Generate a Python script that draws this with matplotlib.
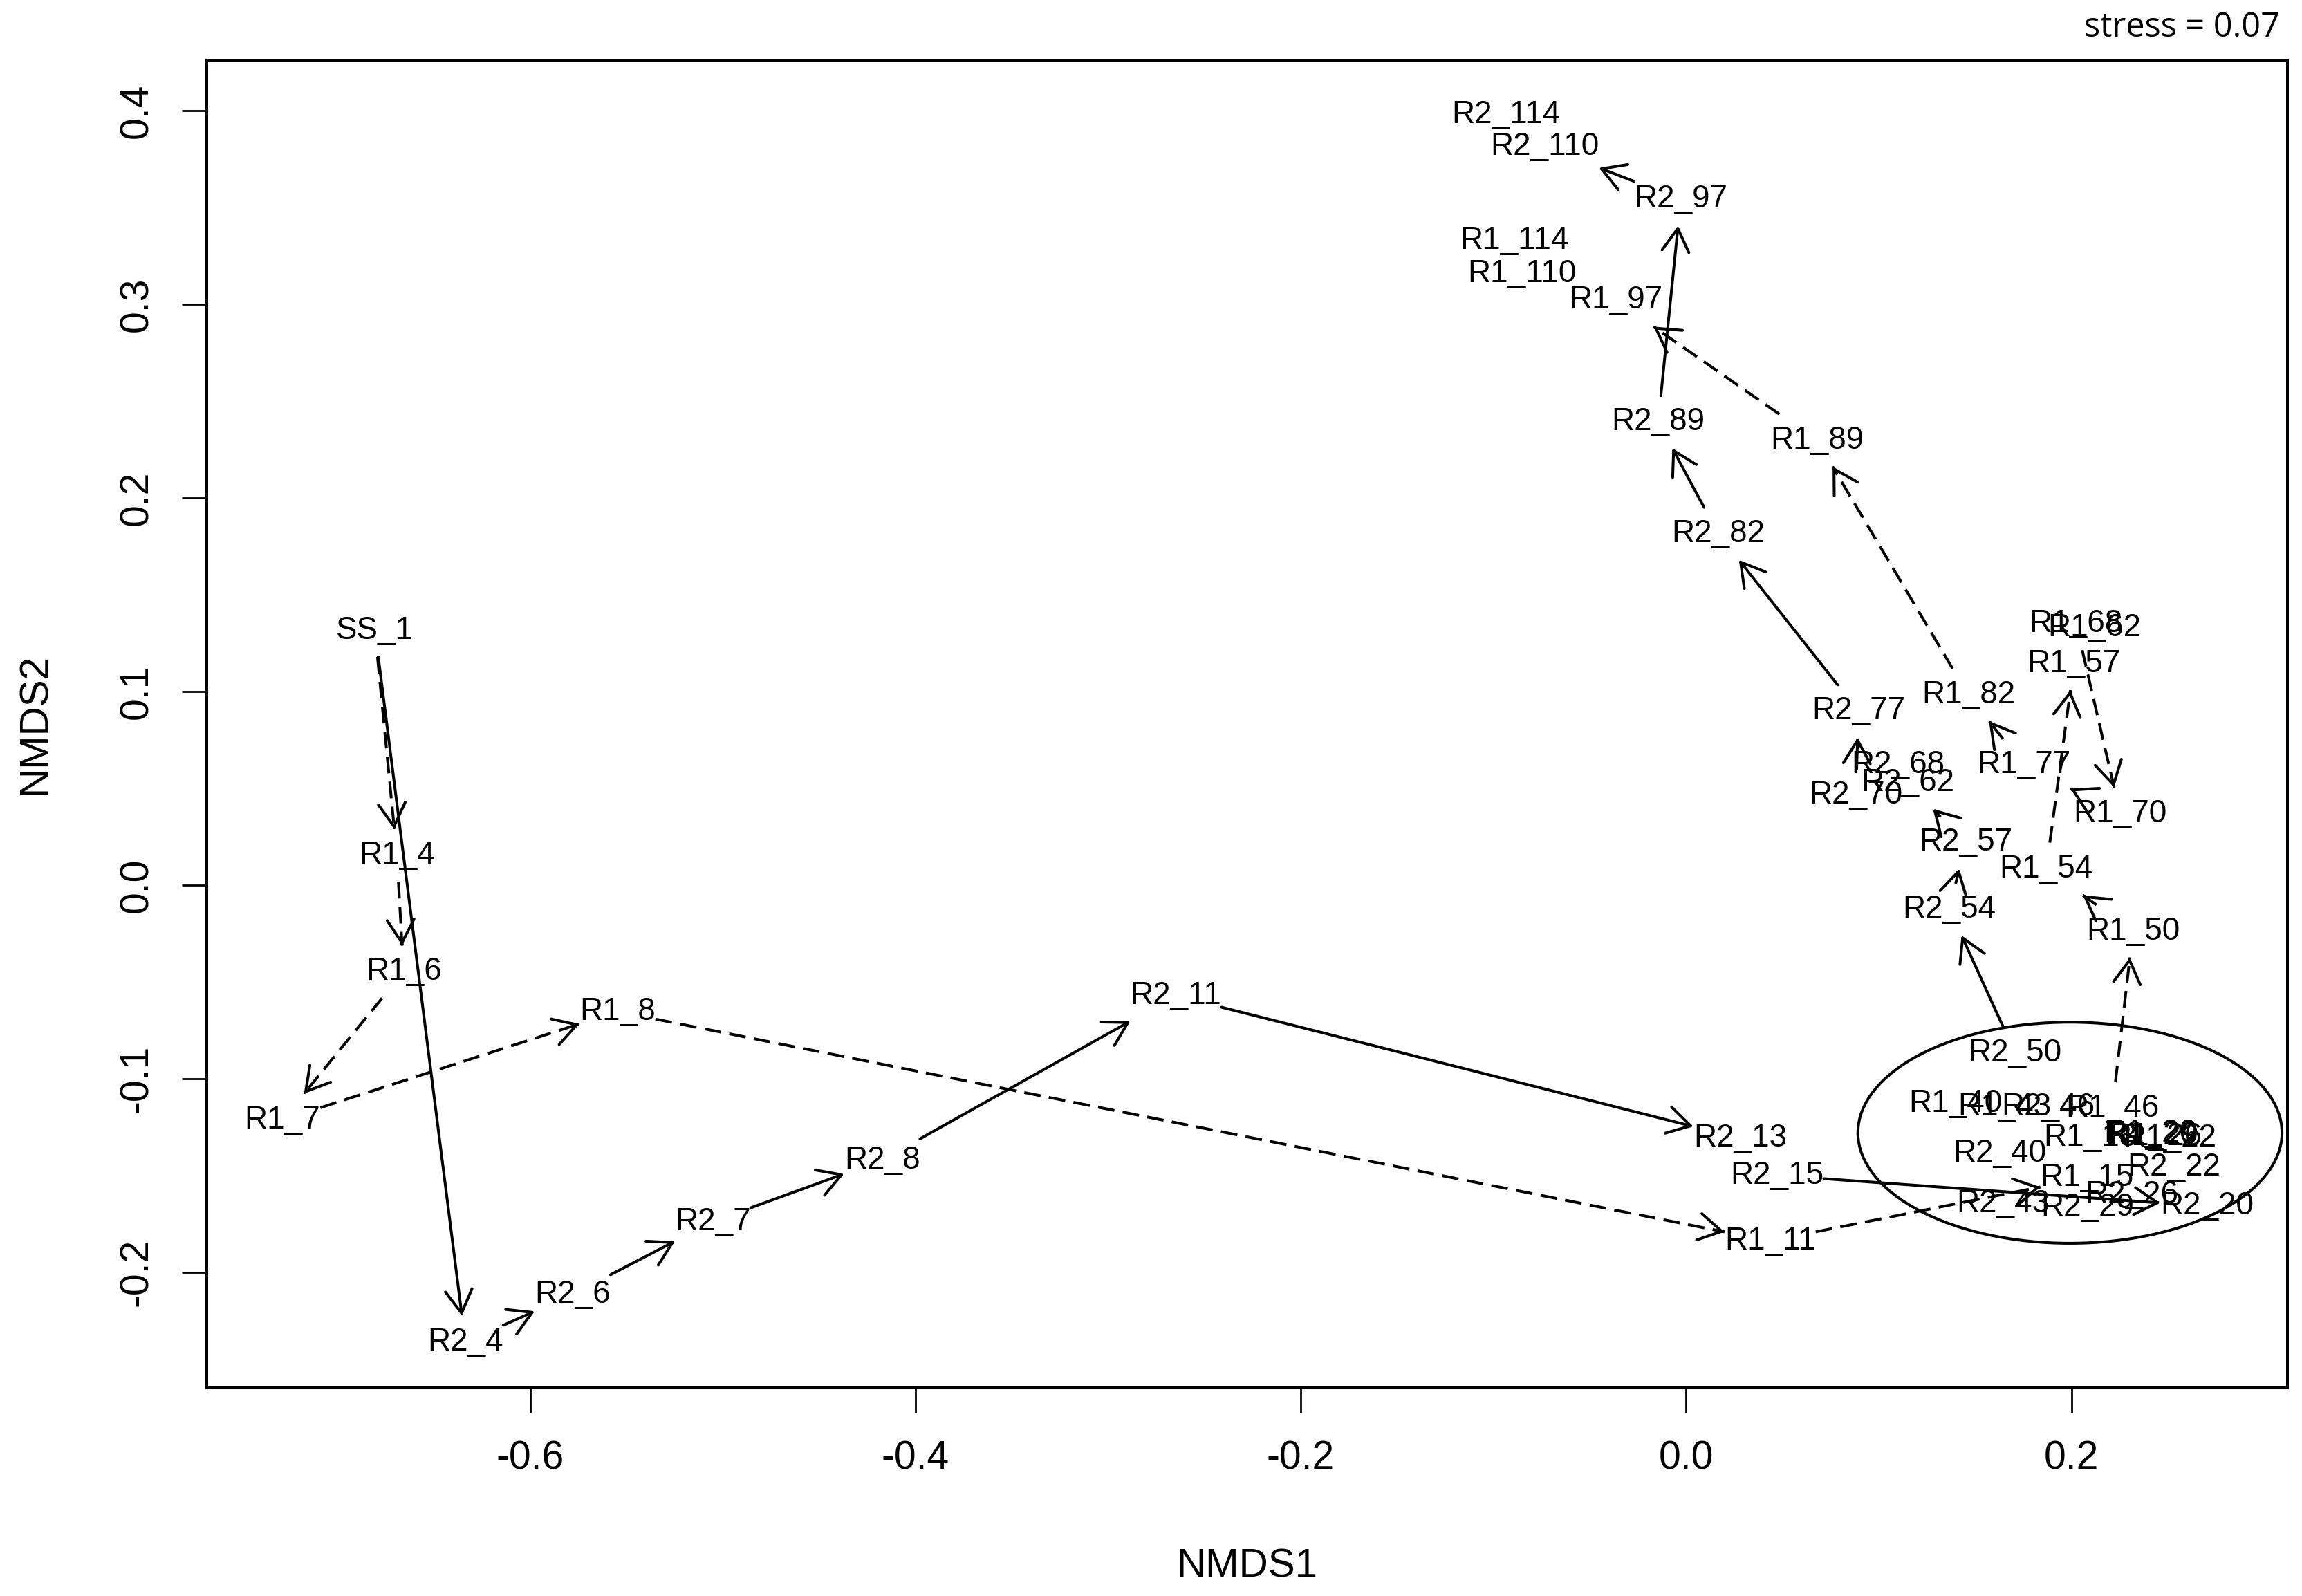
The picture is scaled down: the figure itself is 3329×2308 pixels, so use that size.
import numpy as np
import matplotlib
matplotlib.use("Agg")
import matplotlib.pyplot as plt
from matplotlib import font_manager
from matplotlib.patches import Ellipse, FancyArrowPatch, ArrowStyle

# site labels and their NMDS scores
sites = ["SS_1",
         "R1_4", "R1_6", "R1_7", "R1_8", "R1_11", "R1_13", "R1_15", "R1_20", "R1_22",
         "R1_26", "R1_29", "R1_40", "R1_43", "R1_46", "R1_50", "R1_54", "R1_57", "R1_62",
         "R1_68", "R1_70", "R1_77", "R1_82", "R1_89", "R1_97", "R1_110", "R1_114",
         "R2_4", "R2_6", "R2_7", "R2_8", "R2_11", "R2_13", "R2_15", "R2_20", "R2_22",
         "R2_26", "R2_29", "R2_40", "R2_43", "R2_46", "R2_50", "R2_54", "R2_57", "R2_62",
         "R2_68", "R2_70", "R2_77", "R2_82", "R2_89", "R2_97", "R2_110", "R2_114"]
nmds1 = [-0.6805,
         -0.6691, -0.6656, -0.7285, -0.5546, 0.0436, 0.2096, 0.2081, 0.2410, 0.2509,
         0.2433, 0.2418, 0.1397, 0.1652, 0.2212, 0.2319, 0.1869, 0.2013, 0.2120,
         0.2024, 0.2253, 0.1752, 0.1464, 0.0679, -0.0365, -0.0852, -0.0893,
         -0.6336, -0.5779, -0.5051, -0.4173, -0.2648, 0.0280, 0.0472, 0.2703, 0.2532,
         0.2314, 0.2081, 0.1629, 0.1645, 0.1877, 0.1708, 0.1367, 0.1450, 0.1148,
         0.1100, 0.0881, 0.0894, 0.0166, -0.0145, -0.0028, -0.0735, -0.0935]
nmds2 = [0.1333,
         0.0171, -0.0430, -0.1195, -0.0635, -0.1820, -0.1285, -0.1493, -0.1266, -0.1289,
         -0.1281, -0.1274, -0.1112, -0.1130, -0.1136, -0.0220, 0.0102, 0.1161, 0.1346,
         0.1368, 0.0387, 0.0638, 0.1001, 0.2316, 0.3039, 0.3176, 0.3346,
         -0.2343, -0.2096, -0.1720, -0.1402, -0.0553, -0.1290, -0.1481, -0.1641, -0.1440,
         -0.1582, -0.1647, -0.1368, -0.1630, -0.1130, -0.0851, -0.0106, 0.0239, 0.0548,
         0.0638, 0.0483, 0.0917, 0.1834, 0.2411, 0.3561, 0.3832, 0.3996]

# visible trajectory arrows (reactor 1 dashed, reactor 2 solid)
r1_links = [("SS_1", "R1_4"), ("R1_4", "R1_6"), ("R1_6", "R1_7"), ("R1_7", "R1_8"),
            ("R1_8", "R1_11"), ("R1_11", "R1_15"), ("R1_46", "R1_50"), ("R1_50", "R1_54"),
            ("R1_54", "R1_57"), ("R1_68", "R1_70"), ("R1_70", "R1_77"), ("R1_77", "R1_82"),
            ("R1_82", "R1_89"), ("R1_89", "R1_97")]
r2_links = [("SS_1", "R2_4"), ("R2_4", "R2_6"), ("R2_6", "R2_7"), ("R2_7", "R2_8"),
            ("R2_8", "R2_11"), ("R2_11", "R2_13"), ("R2_15", "R2_20"), ("R2_50", "R2_54"),
            ("R2_54", "R2_57"), ("R2_57", "R2_62"), ("R2_70", "R2_77"), ("R2_77", "R2_82"),
            ("R2_82", "R2_89"), ("R2_89", "R2_97"), ("R2_97", "R2_110")]

# ellipse around the early cluster
cluster_xy = (0.1992, -0.1279)
cluster_w, cluster_h = 0.2201, 0.1142
stress = 0.07

xticks = [-0.6, -0.4, -0.2, 0.0, 0.2]
yticks = [-0.2, -0.1, 0.0, 0.1, 0.2, 0.3, 0.4]

installed = {f.name for f in font_manager.fontManager.ttflist}
if "Liberation Sans Narrow" in installed:
    tick_font, tick_size = "Liberation Sans Narrow", 45
else:
    tick_font, tick_size = "Liberation Sans", 41

LW = 2.9
fig = plt.figure(figsize=(33.29, 23.08), dpi=100)
ax = fig.add_axes([0.0898, 0.1304, 0.9039, 0.8319])
ax.set_xlim(-0.7678, 0.3121)
ax.set_ylim(-0.2597, 0.4262)

for s in ax.spines.values():
    s.set_linewidth(LW)
ax.set_xticks(xticks)
ax.set_xticklabels([f"{v:.1f}" for v in xticks])
ax.set_yticks(yticks)
ax.set_yticklabels([f"{v:.1f}" for v in yticks])
ax.tick_params(direction="out", length=26, width=2, pad=28, labelsize=tick_size)
ax.tick_params(axis="y", labelrotation=90, pad=27)
for lbl in ax.get_xticklabels() + ax.get_yticklabels():
    lbl.set_family(tick_font)
for lbl in ax.get_yticklabels():
    lbl.set_va("center")

ax.set_xlabel("NMDS1", fontsize=42, family="Liberation Sans")
ax.set_ylabel("NMDS2", fontsize=42, family="Liberation Sans")
ax.xaxis.set_label_coords(0.5, -0.1344)
ax.xaxis.label.set_va("center")
ax.yaxis.set_label_coords(-0.0826, 0.5)
ax.yaxis.label.set_va("center")

texts = {}
for name, x, y in zip(sites, nmds1, nmds2):
    texts[name] = ax.text(x, y, name, ha="center", va="center_baseline",
                          fontsize=33, family="Liberation Sans", color="black")

ax.add_patch(Ellipse(cluster_xy, cluster_w, cluster_h, fill=False,
                     lw=LW, ec="black"))

fig.text(0.9904, 0.9827, f"stress = {stress:.2f}", ha="right", va="center",
         fontsize=35, family="Open Sans")

# clip arrows to the label boxes, like the original
fig.canvas.draw()
renderer = fig.canvas.get_renderer()
inv = ax.transData.inverted()
MX, MY = 0, 16
head = ArrowStyle("->", head_length=24, head_width=14)


def clipped(a, b):
    ba = texts[a].get_window_extent(renderer)
    bb = texts[b].get_window_extent(renderer)
    p = np.array([(ba.x0 + ba.x1) / 2, (ba.y0 + ba.y1) / 2])
    q = np.array([(bb.x0 + bb.x1) / 2, (bb.y0 + bb.y1) / 2])
    d = q - p
    L = np.hypot(*d)
    u = d / L

    def exit_t(box):
        hw, hh = box.width / 2 + MX, box.height / 2 + MY
        tx = hw / abs(u[0]) if abs(u[0]) > 1e-9 else np.inf
        ty = hh / abs(u[1]) if abs(u[1]) > 1e-9 else np.inf
        return min(tx, ty)

    ta, tb = exit_t(ba), exit_t(bb)
    end = q - tb * u
    start = p + ta * u
    if ta + tb >= L - 5:
        # labels nearly touch: only the arrow head shows
        start = end - 3 * u
    return inv.transform(start), inv.transform(end), inv.transform(end - 2 * u)


for links, dashed in [(r1_links, True), (r2_links, False)]:
    for a, b in links:
        s, e, e0 = clipped(a, b)
        if dashed:
            ax.plot([s[0], e[0]], [s[1], e[1]], color="black", lw=LW,
                    linestyle=(0, (6, 3)))
            ax.add_patch(FancyArrowPatch(e0, e, arrowstyle=head, mutation_scale=1,
                                         lw=LW, color="black", shrinkA=0, shrinkB=0))
        else:
            ax.add_patch(FancyArrowPatch(s, e, arrowstyle=head, mutation_scale=1,
                                         lw=LW, color="black", shrinkA=0, shrinkB=0,
                                         capstyle="round"))

fig.savefig("out.png", dpi=100)
